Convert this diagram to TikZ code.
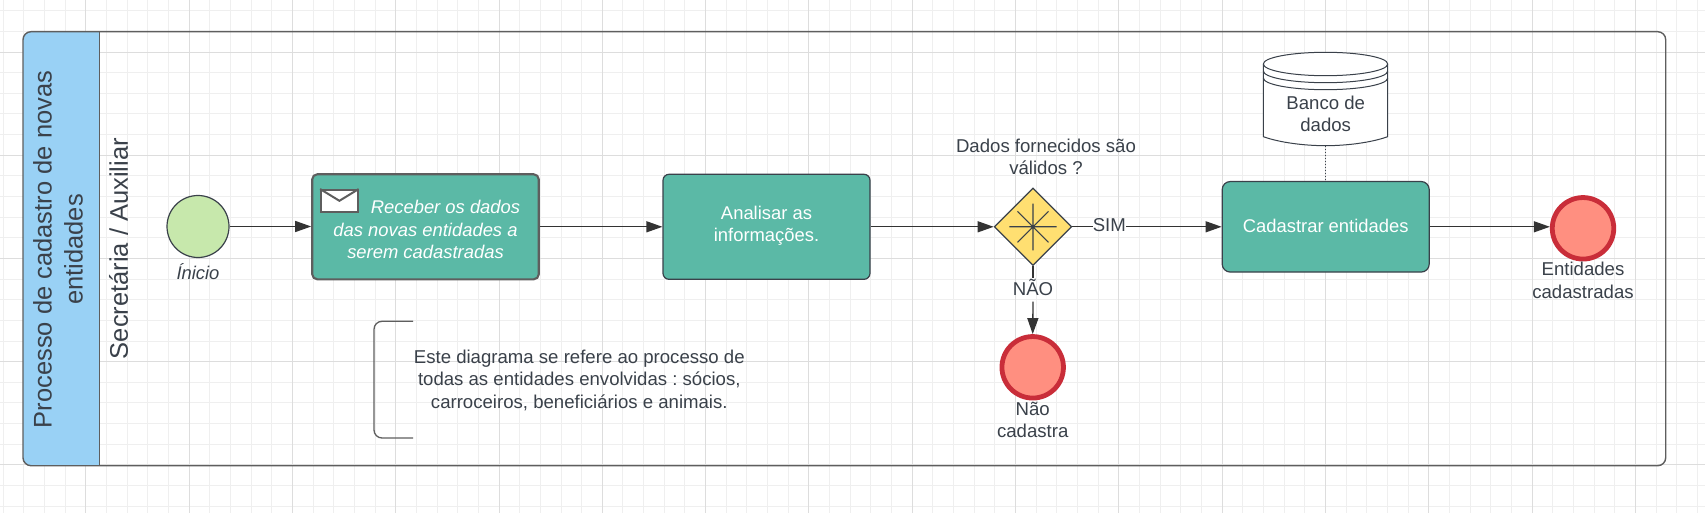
\documentclass[tikz,border=0pt]{standalone}
\usepackage{fontspec}
\setmainfont{Liberation Sans}
\usetikzlibrary{arrows.meta,shapes.geometric}
\frenchspacing
\definecolor{ink}{HTML}{3A414A}
\definecolor{edge}{HTML}{333333}
\definecolor{framec}{HTML}{5E5E5E}
\definecolor{bandc}{HTML}{99D1F5}
\definecolor{teal}{HTML}{5BB9A6}
\definecolor{startc}{HTML}{C7E8AC}
\definecolor{endf}{HTML}{FF8F80}
\definecolor{ends}{HTML}{C92D39}
\definecolor{gatec}{HTML}{FFDF71}
\definecolor{minorg}{HTML}{EFEFEF}
\definecolor{majorg}{HTML}{DDDDDD}
\tikzset{
  txt/.style={text=ink,align=center,inner sep=0pt,font=\fontsize{18.6}{22.4}\selectfont},
  lanetxt/.style={text=ink,align=center,inner sep=0pt,rotate=90,font=\fontsize{25.5}{31}\selectfont},
  task/.style={rectangle,rounded corners=6pt,fill=teal,draw=ink,line width=1.2pt,text=white,align=center,inner sep=0pt},
  whitetxt/.style={inner sep=0pt,text=white,align=center,font=\fontsize{18.4}{22.4}\selectfont},
  endev/.style={circle,fill=endf,draw=ends,line width=4.8pt,minimum size=61.5pt,inner sep=0pt},
  flow/.style={draw=edge,line width=1.3pt,-{Triangle[length=16pt,width=11pt]}},
  plainline/.style={draw=edge,line width=1.3pt},
  gline/.style={draw=ink,line width=1.1pt},
  minorline/.style={draw=minorg,line width=0.9pt},
  majorline/.style={draw=majorg,line width=0.9pt},
}
\begin{document}
\begin{tikzpicture}[x=1pt,y=-1pt]
\useasboundingbox (0,0) rectangle (1705,513);
\fill[white] (0,0) rectangle (1705,513);
% grid
\foreach \i in {0,...,82}{
  \pgfmathsetmacro{\gx}{3.14+20.66*\i}
  \pgfmathtruncatemacro{\m}{mod(\i,5)}
  \ifnum\m=4\relax\else\draw[minorline] (\gx,0) -- (\gx,513);\fi
}
\foreach \i in {0,...,24}{
  \pgfmathsetmacro{\gy}{10.72+20.64*\i}
  \pgfmathtruncatemacro{\m}{mod(\i,5)}
  \ifnum\m=2\relax\else\draw[minorline] (0,\gy) -- (1705,\gy);\fi
}
\foreach \i in {0,...,82}{
  \pgfmathsetmacro{\gx}{3.14+20.66*\i}
  \pgfmathtruncatemacro{\m}{mod(\i,5)}
  \ifnum\m=4\relax\draw[majorline] (\gx,0) -- (\gx,513);\fi
}
\foreach \i in {0,...,24}{
  \pgfmathsetmacro{\gy}{10.72+20.64*\i}
  \pgfmathtruncatemacro{\m}{mod(\i,5)}
  \ifnum\m=2\relax\draw[majorline] (0,\gy) -- (1705,\gy);\fi
}
% pool band
\fill[bandc] (99.3,31.7) -- (31,31.7) arc[start angle=90,end angle=180,x radius=8,y radius=-8] -- (23,457.7) arc[start angle=180,end angle=270,x radius=8,y radius=-8] -- (99.3,465.7) -- cycle;
\draw[framec,line width=1.4pt] (99.3,31.7) -- (99.3,465.7);
\node[rectangle,rounded corners=8pt,draw=framec,line width=1.4pt,minimum width=1642.7pt,minimum height=434pt,inner sep=0pt] (pool) at (844.35,248.7) {};
\node[lanetxt] (title) at (58,249.5) {Processo de cadastro de novas\\entidades};
\node[lanetxt] (laneb) at (118.5,248.5) {Secretária / Auxiliar};
% events and tasks
\node[circle,fill=startc,draw=ink,line width=1.2pt,minimum size=62pt,inner sep=0pt] (start) at (198,226.5) {};
\node[txt,font=\itshape\fontsize{18.4}{22}\selectfont] (startl) at (198,272) {Ínicio};
\node[task,draw=framec,line width=2.1pt,rounded corners=5pt,minimum width=226.5pt,minimum height=105pt] (t1) at (425.5,226.8) {};
\node[whitetxt,font=\itshape\fontsize{18.4}{22.4}\selectfont] (t1l) at (425.5,229.8) {\hspace*{40pt}Receber os dados\\das novas entidades a\\serem cadastradas};
\node[rectangle,fill=white,draw=framec,line width=2pt,minimum width=36.5pt,minimum height=21.5pt,inner sep=0pt] (env) at (339.4,200.8) {};
\draw[framec,line width=2pt] (env.north west) -- (env.center) -- (env.north east);
\node[task,minimum width=207pt,minimum height=105pt] (t2) at (766.5,226.8) {};
\node[whitetxt] (t2l) at (766.5,225.8) {Analisar as\\informações.};
\node[diamond,fill=gatec,draw=ink,line width=1.2pt,minimum width=77.5pt,minimum height=77.5pt,inner sep=0pt] (gw) at (1033,226.8) {};
\draw[gline] (1009.3,226.8) -- (1056.7,226.8) (1033,203.6) -- (1033,250.3) (1017.5,211.3) -- (1048.5,242.3) (1017.5,242.3) -- (1048.5,211.3);
\node[txt] (gwl) at (1046,156.8) {Dados fornecidos são\\válidos ?};
\node[task,rounded corners=8pt,minimum width=207pt,minimum height=90.5pt] (t3) at (1325.7,226.8) {};
\node[whitetxt] (t3l) at (1325.7,225.5) {Cadastrar entidades};
\node[endev] (end1) at (1583,228.3) {};
\node[txt] (end1l) at (1583,280.5) {Entidades\\cadastradas};
\node[endev] (end2) at (1032.7,367.3) {};
\node[txt] (end2l) at (1032.7,419.8) {Não\\cadastra};
% database
\filldraw[fill=white,draw=ink,line width=1pt] (1263.3,64) arc[start angle=180,end angle=0,x radius=62.2,y radius=-11.7] -- (1387.7,136.7) .. controls (1370,143) and (1345,145.7) .. (1325.5,145.7) .. controls (1306,145.7) and (1281,143) .. (1263.3,136.7) -- cycle;
\draw[ink,line width=1pt] (1263.3,64) arc[start angle=180,end angle=360,x radius=62.2,y radius=-11.7];
\draw[ink,line width=1pt] (1263.3,71) arc[start angle=180,end angle=360,x radius=62.2,y radius=-11.7];
\draw[ink,line width=1pt] (1263.3,78) arc[start angle=180,end angle=360,x radius=62.2,y radius=-11.7];
\node[txt,minimum width=124.4pt,minimum height=63.4pt,outer sep=0pt] (db) at (1325.7,114) {Banco de\\dados};
\draw[draw=ink,line width=1pt,dotted] (db.south) -- (t3.north);
% labels on connectors
\node[txt] (sim) at (1109.3,224.8) {SIM};
\node[txt] (nao) at (1033,287.8) {NÃO};
\coordinate (naoa) at (1033,278);
\coordinate (naob) at (1033,301.7);
% flows
\draw[flow] (start) -- (start -| t1.west);
\draw[flow] (t1) -- (t2);
\draw[flow] (t2) -- (gw);
\draw[plainline] (gw.east) -- (sim.west |- gw.east);
\draw[flow] (sim.east |- gw.east) -- (t3);
\draw[flow] (t3) -- (t3 -| end1.west);
\draw[plainline] (gw.south) -- (naoa);
\draw[flow] (naob) -- (end2.north);
% note bracket
\node[txt] (note) at (579.3,380.3) {Este diagrama se refere ao processo de\\todas as entidades envolvidas : sócios,\\carroceiros, beneficiários e animais.};
\coordinate (ba) at (413,321.3);
\coordinate (bb) at (413,438);
\draw[framec,line width=1.3pt,rounded corners=8pt] (ba) -- (374,321.3) -- (374,438) -- (bb);
\end{tikzpicture}
\end{document}
